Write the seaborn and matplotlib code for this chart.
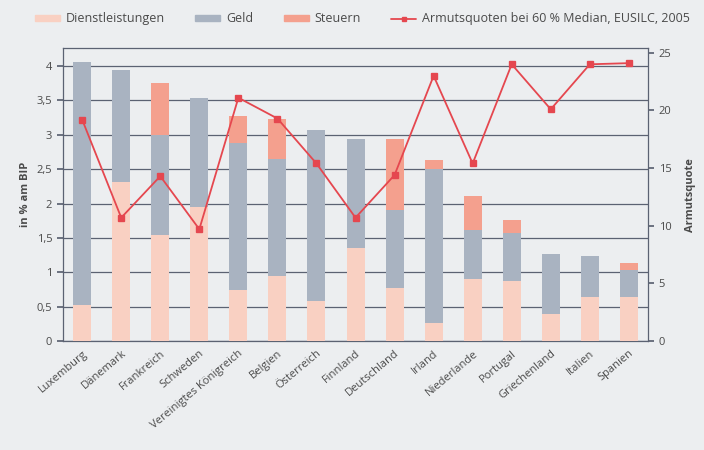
import numpy as np
import pandas as pd
import seaborn as sns
import matplotlib.pyplot as plt
from matplotlib.patches import Patch
from matplotlib.lines import Line2D
from matplotlib.ticker import FuncFormatter

# ----------------------------
# Data
# ----------------------------
laender = ["Luxemburg", "Dänemark", "Frankreich", "Schweden", "Vereinigtes Königreich",
           "Belgien", "Österreich", "Finnland", "Deutschland", "Irland",
           "Niederlande", "Portugal", "Griechenland", "Italien", "Spanien"]
dienstleistungen = [0.53, 2.32, 1.55, 1.95, 0.74, 0.95, 0.58, 1.36, 0.77, 0.27,
                    0.90, 0.87, 0.39, 0.64, 0.64]
geld = [3.53, 1.62, 1.44, 1.59, 2.14, 1.70, 2.49, 1.58, 1.14, 2.23,
        0.71, 0.70, 0.88, 0.60, 0.39]
steuern = [0.00, 0.00, 0.77, 0.00, 0.40, 0.58, 0.00, 0.00, 1.03, 0.13,
           0.50, 0.19, 0.00, 0.00, 0.11]
armutsquote = [19.2, 10.7, 14.3, 9.7, 21.1, 19.3, 15.4, 10.7, 14.4, 23.0,
               15.4, 24.0, 20.1, 24.0, 24.1]

C_DIENST = "#f9d0c2"
C_GELD = "#a9b3c1"
C_STEUER = "#f4a08e"
C_LINE = "#e5474f"
C_GRID = "#5b6272"
C_TEXT = "#4a4a4a"
BG = "#eceef0"

df = pd.DataFrame({"land": laender, "d": dienstleistungen, "g": geld,
                   "s": steuern, "quote": armutsquote})
df["dg"] = df["d"] + df["g"]
df["total"] = df["dg"] + df["s"]

sns.set_theme(style="white")
plt.rcParams["font.family"] = ["Open Sans", "DejaVu Sans"]

fig, ax = plt.subplots(figsize=(7.04, 4.5), dpi=100)
fig.patch.set_facecolor(BG)
ax.set_facecolor(BG)
fig.subplots_adjust(left=0.089, right=0.921, top=0.893, bottom=0.242)

# stacked bars: draw cumulative totals from top layer down
w = 0.46
for col, c in [("total", C_STEUER), ("dg", C_GELD), ("d", C_DIENST)]:
    sns.barplot(data=df, x="land", y=col, color=c, width=w, saturation=1,
                linewidth=0, edgecolor="none", ax=ax, zorder=3)

ax.set_ylim(0, 4.26)
ax.set_yticks(np.arange(0, 4.01, 0.5))
ax.yaxis.set_major_formatter(FuncFormatter(lambda v, p: f"{v:g}".replace(".", ",")))
ax.grid(axis="y", color=C_GRID, linewidth=0.9, zorder=0)
ax.set_axisbelow(True)
ax.set_xlim(-0.5, len(laender) - 0.5)
ax.set_xlabel("")
ax.set_ylabel("in % am BIP", fontsize=8, fontweight="bold", color=C_TEXT)

ax.set_xticks(np.arange(len(laender)))
ax.set_xticklabels(laender, rotation=40, ha="right", rotation_mode="anchor",
                   fontsize=8, color=C_TEXT)
ax.tick_params(axis="x", length=0, pad=5)
ax.set_xticks(np.arange(-0.5, len(laender), 1), minor=True)
ax.tick_params(axis="x", which="minor", length=4, color=C_GRID, direction="out")
ax.tick_params(axis="y", length=4, color=C_GRID, labelsize=8, labelcolor=C_TEXT,
               direction="out", left=True)

for sp in ["top", "left", "bottom", "right"]:
    ax.spines[sp].set_color(C_GRID)
    ax.spines[sp].set_linewidth(0.9)

# poverty rate line on right axis
ax2 = ax.twinx()
sns.pointplot(data=df, x="land", y="quote", color=C_LINE, markers="s",
              linestyles="-", markersize=4, linewidth=1.3, ax=ax2)
ax2.set_ylim(0, 25.4)
ax2.set_xlim(-0.5, len(laender) - 0.5)
ax2.set_yticks(np.arange(0, 26, 5))
ax2.set_ylabel("Armutsquote", fontsize=8, fontweight="bold", color=C_TEXT, labelpad=10)
ax2.set_xlabel("")
ax2.tick_params(axis="y", length=4, color=C_GRID, labelsize=8, labelcolor=C_TEXT,
                direction="out", right=True)
for sp in ax2.spines.values():
    sp.set_visible(False)

handles = [Patch(color=C_DIENST, label="Dienstleistungen"),
           Patch(color=C_GELD, label="Geld"),
           Patch(color=C_STEUER, label="Steuern"),
           Line2D([], [], color=C_LINE, marker="s", markersize=3, linewidth=1.3,
                  label="Armutsquoten bei 60 % Median, EUSILC, 2005")]
fig.legend(handles=handles, loc="center", bbox_to_anchor=(0.515, 0.958), ncol=4,
           frameon=False, fontsize=9, handlelength=2.0, handleheight=0.35,
           handletextpad=0.5, columnspacing=2.4, labelcolor=C_TEXT)

fig.savefig("out.png", dpi=100, facecolor=BG)
